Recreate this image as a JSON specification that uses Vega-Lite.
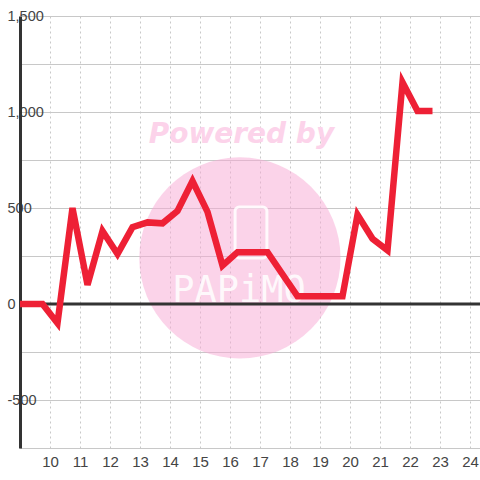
{
  "$schema": "https://vega.github.io/schema/vega-lite/v6.json",
  "width": 460,
  "height": 432,
  "autosize": "none",
  "padding": {"left": 20, "top": 16, "right": 0, "bottom": 32},
  "background": "white",
  "config": {
    "view": {"stroke": null},
    "axisX": {
      "grid": true, "gridColor": "#c8c8c8", "gridDash": [2, 3], "gridWidth": 1,
      "domain": true, "domainColor": "#c8c8c8", "domainWidth": 1,
      "ticks": false, "labelPadding": 6, "labelFontSize": 15,
      "labelFont": "Liberation Sans", "labelColor": "#444444",
      "labelFlush": false, "labelOverlap": false, "labelSeparation": 0, "title": null
    },
    "axisY": {
      "grid": true, "gridColor": "#c8c8c8", "gridWidth": 1,
      "domain": true, "domainColor": "#333333", "domainWidth": 3,
      "ticks": false, "labelAlign": "left", "labelPadding": 13,
      "labelFontSize": 14.5, "labelFont": "Liberation Sans", "labelColor": "#444444",
      "labelFlush": false, "labelOverlap": false, "labelBound": false, "title": null
    }
  },
  "datasets": {
    "series": [
      {"x": 9.0, "y": 0},
      {"x": 9.75, "y": 0},
      {"x": 10.25, "y": -100},
      {"x": 10.75, "y": 500},
      {"x": 11.25, "y": 100},
      {"x": 11.75, "y": 380},
      {"x": 12.25, "y": 260},
      {"x": 12.75, "y": 400},
      {"x": 13.25, "y": 425},
      {"x": 13.75, "y": 420},
      {"x": 14.25, "y": 485},
      {"x": 14.75, "y": 640},
      {"x": 15.25, "y": 480},
      {"x": 15.75, "y": 200},
      {"x": 16.25, "y": 270},
      {"x": 16.75, "y": 270},
      {"x": 17.25, "y": 270},
      {"x": 17.75, "y": 155},
      {"x": 18.25, "y": 40},
      {"x": 18.75, "y": 40},
      {"x": 19.25, "y": 40},
      {"x": 19.75, "y": 40},
      {"x": 20.25, "y": 465},
      {"x": 20.75, "y": 340},
      {"x": 21.25, "y": 280},
      {"x": 21.75, "y": 1155},
      {"x": 22.25, "y": 1005},
      {"x": 22.75, "y": 1005}
    ],
    "mark": [{"x": 16.33, "y": 240}],
    "phone": [{"x": 16.17, "x2": 17.23, "y": 240, "y2": 505}],
    "powered": [{"x": 16.38, "y": 838, "label": "Powered by"}],
    "brand": [{"x": 16.3, "y": 10, "label": "PAPiMO"}]
  },
  "layer": [
    {
      "data": {"name": "mark"},
      "mark": {"type": "point", "filled": true, "shape": "circle", "size": 40500, "color": "#f7a8d4", "opacity": 0.5, "clip": true},
      "encoding": {
        "x": {
          "field": "x", "type": "quantitative",
          "scale": {"domain": [9, 24.3333], "nice": false, "zero": false},
          "axis": {
            "tickCount": 16,
            "labelExpr": "datum.value < 9.5 ? '' : format(datum.value, 'd')",
            "labelOverlap": false
          }
        },
        "y": {
          "field": "y", "type": "quantitative",
          "scale": {"domain": [-750, 1500], "nice": false, "zero": false},
          "axis": {
            "values": [-750, -500, -250, 0, 250, 500, 750, 1000, 1250, 1500],
            "labelExpr": "datum.value % 500 === 0 ? replace(format(datum.value, ','), '−', '-') : ''"
          }
        }
      }
    },
    {
      "data": {"name": "phone"},
      "mark": {"type": "rect", "fill": null, "stroke": "#ffffff", "strokeWidth": 3, "cornerRadius": 4, "opacity": 0.85},
      "encoding": {
        "x": {"field": "x", "type": "quantitative"},
        "x2": {"field": "x2"},
        "y": {"field": "y", "type": "quantitative"},
        "y2": {"field": "y2"}
      }
    },
    {
      "data": {"name": "powered"},
      "mark": {"type": "text", "font": "DejaVu Sans", "fontWeight": "bold", "fontStyle": "italic", "fontSize": 28, "color": "#fcd3ea", "align": "center", "baseline": "alphabetic"},
      "encoding": {
        "x": {"field": "x", "type": "quantitative"},
        "y": {"field": "y", "type": "quantitative"},
        "text": {"field": "label"}
      }
    },
    {
      "data": {"name": "brand"},
      "mark": {"type": "text", "font": "DejaVu Sans Mono", "fontSize": 37, "color": "#ffffff", "opacity": 0.85, "align": "center", "baseline": "alphabetic"},
      "encoding": {
        "x": {"field": "x", "type": "quantitative"},
        "y": {"field": "y", "type": "quantitative"},
        "text": {"field": "label"}
      }
    },
    {
      "data": {"values": [{}]},
      "mark": {"type": "rule", "color": "#333333", "strokeWidth": 3},
      "encoding": {"y": {"datum": 0}}
    },
    {
      "data": {"name": "series"},
      "mark": {"type": "line", "color": "#ee2035", "strokeWidth": 6.5, "strokeJoin": "miter", "strokeCap": "butt", "clip": true},
      "encoding": {
        "x": {"field": "x", "type": "quantitative"},
        "y": {"field": "y", "type": "quantitative"}
      }
    }
  ]
}
